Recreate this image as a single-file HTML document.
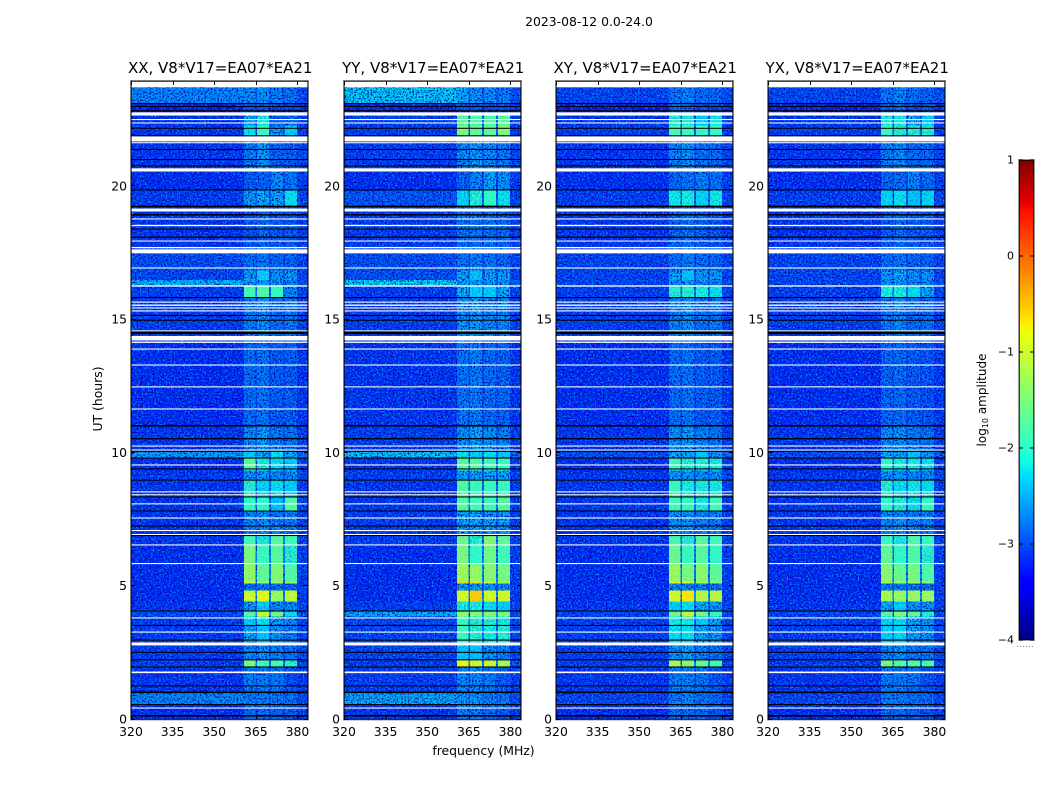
<!DOCTYPE html>
<html lang="en">
<head>
<meta charset="utf-8">
<title>2023-08-12 0.0-24.0 dynamic spectra</title>
<style>
html,body{margin:0;padding:0;background:#fff;}
svg{display:block;}
text{font-family:"DejaVu Sans","Liberation Sans",sans-serif;fill:#000;}
</style>
</head>
<body>
<svg id="chart" xmlns="http://www.w3.org/2000/svg" width="1050" height="800" viewBox="0 0 1050 800">
  <rect width="1050" height="800" fill="#fff"/>
  <text x="589" y="26" font-size="12.4" text-anchor="middle">2023-08-12 0.0-24.0</text>
  <text x="0" y="0" font-size="12.4" text-anchor="middle" transform="translate(102,399) rotate(-90)">UT (hours)</text>
  <text x="483.5" y="755" font-size="12.4" text-anchor="middle">frequency (MHz)</text>
  <text x="0" y="0" font-size="12" text-anchor="middle" transform="translate(986,400) rotate(-90)">log<tspan font-size="8" dy="2">10</tspan><tspan dy="-2"> amplitude</tspan></text>
  <defs id="defs"></defs>
  <g id="panels"></g>
  <g id="colorbar"></g>
</svg>
<script>
// ---------- data ----------
const panelNames = ['XX', 'YY', 'XY', 'YX'];
const baselineName = 'V8*V17=EA07*EA21';
const freqTicks = [320, 335, 350, 365, 380];
const utTicks = [0, 5, 10, 15, 20];
const colorbarTicks = [1, 0, -1, -2, -3, -4];
const freqRange = [320, 383.8];
const utRange = [0, 23.93];
const colorRange = [-4, 1];

// column edges in MHz: background, band A, gap, band B, gap, band C, gap, band D, tail
const freqEdges = [320, 360.7, 364.8, 365.4, 369.7, 370.5, 374.8, 375.5, 379.8, 383.8];

// time segments, UT hours, top to bottom
const utEdges = [23.93, 23.13, 22.78, 22.29, 21.89, 20.68, 19.85, 19.25, 17.71, 16.85, 16.49, 16.27, 15.83, 14.22, 11.03, 10.06, 9.79, 9.34, 8.97, 8.33, 7.80, 7.58, 6.90, 6.53, 5.82, 5.18, 5.10, 4.84, 4.43, 4.05, 3.86, 3.53, 2.78, 2.21, 1.99, 1.01, 0.56, 0];

// log10 amplitude per segment: [background, band A, band B, band C, band D]
const levelsXX = [
[-2.65,-2.6,-2.55,-2.7,-2.75],[-3.3,-2.95,-2.95,-3.1,-3.1],[-3.15,-2.4,-2.1,-2.9,-2.8],[-3.15,-2.2,-1.9,-2.5,-2.3],
[-3.15,-2.7,-2.5,-2.85,-2.9],[-3.2,-2.9,-2.85,-2.6,-2.75],[-3.1,-2.5,-2.4,-2.45,-2.2],[-3.15,-2.95,-2.8,-2.9,-2.9],
[-3.0,-2.8,-2.75,-2.85,-2.85],[-3.05,-2.45,-2.3,-2.55,-2.5],[-2.35,-2.45,-2.45,-2.55,-2.65],[-3.1,-1.85,-1.75,-1.9,-2.6],
[-3.1,-2.7,-2.55,-2.8,-2.7],[-3.2,-2.8,-2.75,-2.9,-2.9],[-3.15,-2.6,-2.5,-2.7,-2.75],[-2.5,-2.3,-2.4,-2.2,-2.4],
[-3.2,-1.7,-2.05,-2.2,-2.3],[-3.15,-2.55,-2.5,-2.6,-2.55],[-3.15,-2.0,-2.25,-2.2,-2.3],[-3.15,-1.95,-1.95,-2.35,-1.75],
[-3.15,-2.65,-2.55,-2.75,-2.65],[-3.15,-2.6,-2.55,-2.65,-2.65],[-3.15,-1.85,-2.05,-1.7,-1.85],[-3.2,-1.5,-1.9,-1.7,-2.0],
[-3.2,-1.35,-1.65,-1.45,-1.75],[-3.2,-0.95,-1.25,-1.1,-1.2],[-3.2,-2.8,-2.75,-2.8,-2.85],[-3.2,-1.0,-0.85,-1.3,-1.05],
[-3.15,-2.5,-2.3,-2.6,-2.6],[-3.0,-1.7,-0.95,-1.5,-2.2],[-3.1,-2.3,-2.2,-2.5,-2.6],[-3.1,-2.4,-2.35,-2.55,-2.65],
[-3.1,-2.65,-2.55,-2.65,-2.75],[-3.1,-1.5,-1.85,-1.8,-2.0],[-3.15,-2.7,-2.7,-2.75,-3.0],[-2.65,-2.7,-2.7,-2.75,-2.8],
[-3.2,-2.8,-2.8,-2.85,-2.9]];
const levelsYY = [
[-2.25,-2.4,-2.55,-2.6,-2.7],[-3.25,-2.95,-2.95,-3.0,-3.0],[-3.05,-1.7,-1.75,-1.75,-1.7],[-3.1,-1.45,-1.65,-1.65,-1.45],
[-3.1,-2.6,-2.5,-2.6,-2.7],[-3.2,-2.85,-2.65,-2.45,-2.55],[-2.95,-2.25,-2.05,-1.95,-2.2],[-3.1,-2.75,-2.75,-2.75,-2.8],
[-3.0,-2.75,-2.7,-2.75,-2.8],[-3.0,-2.45,-2.35,-2.45,-2.45],[-2.2,-2.45,-2.45,-2.45,-2.55],[-3.1,-2.4,-2.3,-2.3,-2.4],
[-3.1,-2.55,-2.5,-2.6,-2.6],[-3.15,-2.75,-2.7,-2.8,-2.85],[-3.1,-2.55,-2.45,-2.55,-2.65],[-2.25,-2.2,-2.3,-2.2,-2.3],
[-3.15,-1.7,-1.75,-1.85,-1.9],[-3.1,-2.45,-2.45,-2.45,-2.45],[-3.15,-1.75,-1.9,-1.9,-1.9],[-3.15,-1.7,-1.85,-1.85,-1.7],
[-3.1,-2.45,-2.45,-2.55,-2.45],[-3.1,-2.4,-2.45,-2.45,-2.45],[-3.1,-1.6,-2.0,-1.45,-1.65],[-3.2,-1.5,-1.95,-1.55,-1.85],
[-3.2,-1.25,-1.3,-1.4,-1.5],[-3.2,-0.6,-0.65,-1.0,-1.1],[-3.2,-2.5,-2.5,-2.55,-2.6],[-3.2,-0.95,-0.55,-0.95,-0.95],
[-3.1,-2.1,-2.1,-2.2,-2.3],[-2.4,-1.3,-1.4,-1.35,-1.45],[-3.05,-1.9,-2.0,-2.0,-2.1],[-3.05,-1.9,-2.0,-2.1,-2.0],
[-3.05,-2.35,-2.35,-2.55,-2.65],[-3.1,-0.8,-1.0,-1.0,-1.2],[-3.1,-2.6,-2.6,-2.7,-2.9],[-2.45,-2.55,-2.55,-2.65,-2.75],
[-3.15,-2.7,-2.7,-2.8,-2.9]];
const levelsXY = [
[-3.05,-2.75,-2.65,-2.8,-2.85],[-3.3,-2.85,-2.85,-3.0,-3.0],[-3.15,-2.0,-2.05,-2.3,-2.15],[-3.1,-1.8,-1.9,-1.9,-1.9],
[-3.15,-2.65,-2.55,-2.75,-2.8],[-3.2,-2.85,-2.75,-2.65,-2.75],[-3.1,-2.15,-2.1,-2.25,-2.15],[-3.15,-2.85,-2.75,-2.85,-2.9],
[-3.05,-2.8,-2.7,-2.8,-2.85],[-3.05,-2.45,-2.35,-2.5,-2.5],[-3.05,-2.55,-2.45,-2.55,-2.65],[-3.1,-2.0,-2.0,-2.1,-2.2],
[-3.1,-2.65,-2.55,-2.75,-2.7],[-3.2,-2.8,-2.75,-2.9,-2.9],[-3.15,-2.55,-2.5,-2.65,-2.75],[-3.0,-2.4,-2.4,-2.3,-2.5],
[-3.2,-1.85,-2.0,-2.0,-2.1],[-3.15,-2.5,-2.5,-2.55,-2.55],[-3.15,-1.9,-2.1,-2.05,-2.1],[-3.15,-1.85,-1.9,-2.1,-1.85],
[-3.15,-2.55,-2.55,-2.65,-2.65],[-3.15,-2.55,-2.55,-2.65,-2.65],[-3.15,-1.8,-2.0,-1.7,-1.85],[-3.2,-1.6,-1.9,-1.7,-1.95],
[-3.2,-1.3,-1.5,-1.4,-1.65],[-3.2,-0.75,-0.75,-1.1,-1.2],[-3.2,-2.65,-2.65,-2.65,-2.75],[-3.2,-0.95,-0.7,-1.1,-1.1],
[-3.15,-2.3,-2.2,-2.4,-2.5],[-3.05,-1.5,-1.0,-1.5,-1.9],[-3.1,-2.1,-2.1,-2.3,-2.4],[-3.1,-2.2,-2.2,-2.4,-2.5],
[-3.1,-2.55,-2.45,-2.65,-2.75],[-3.1,-1.2,-1.4,-1.6,-1.8],[-3.15,-2.7,-2.65,-2.75,-2.95],[-3.05,-2.7,-2.65,-2.75,-2.85],
[-3.2,-2.8,-2.8,-2.85,-2.95]];
const levelsYX = [
[-3.05,-2.75,-2.65,-2.8,-2.85],[-3.3,-2.9,-2.85,-3.0,-3.0],[-3.15,-2.1,-2.1,-2.4,-2.3],[-3.1,-1.9,-2.0,-2.0,-2.0],
[-3.15,-2.7,-2.6,-2.8,-2.8],[-3.2,-2.85,-2.8,-2.65,-2.8],[-3.1,-2.25,-2.2,-2.35,-2.25],[-3.15,-2.9,-2.8,-2.9,-2.9],
[-3.05,-2.8,-2.75,-2.85,-2.85],[-3.05,-2.5,-2.4,-2.55,-2.55],[-3.05,-2.55,-2.5,-2.6,-2.65],[-3.1,-2.1,-2.1,-2.2,-2.4],
[-3.1,-2.7,-2.6,-2.8,-2.75],[-3.2,-2.85,-2.8,-2.9,-2.95],[-3.15,-2.6,-2.55,-2.7,-2.75],[-3.0,-2.4,-2.45,-2.35,-2.5],
[-3.2,-1.95,-2.1,-2.1,-2.2],[-3.15,-2.55,-2.55,-2.6,-2.6],[-3.15,-2.0,-2.2,-2.15,-2.2],[-3.15,-1.95,-2.0,-2.2,-1.9],
[-3.15,-2.6,-2.6,-2.7,-2.65],[-3.15,-2.6,-2.55,-2.65,-2.65],[-3.15,-1.9,-2.1,-1.75,-1.9],[-3.2,-1.65,-1.95,-1.75,-2.0],
[-3.2,-1.4,-1.6,-1.5,-1.75],[-3.2,-1.1,-1.2,-1.2,-1.3],[-3.2,-2.7,-2.7,-2.75,-2.8],[-3.2,-1.2,-1.3,-1.3,-1.3],
[-3.15,-2.4,-2.3,-2.5,-2.55],[-3.05,-1.7,-1.4,-1.6,-2.0],[-3.1,-2.25,-2.2,-2.4,-2.5],[-3.1,-2.3,-2.25,-2.45,-2.55],
[-3.1,-2.65,-2.55,-2.7,-2.75],[-3.1,-1.5,-1.7,-1.7,-1.8],[-3.15,-2.7,-2.7,-2.75,-2.95],[-3.05,-2.7,-2.7,-2.8,-2.85],
[-3.2,-2.8,-2.8,-2.85,-2.95]];
const panelLevels = [levelsXX, levelsYY, levelsXY, levelsYX];

// level of the gaps between bands and of the tail above 380 MHz, per segment
const gapLevels = [-2.95,-3.15,-2.95,-2.85,-2.95,-3.05,-2.9,-3.05,-3.05,-2.95,-2.85,-2.75,-2.95,-3.05,-2.95,-2.75,-2.75,-2.95,-2.75,-2.75,-2.95,-2.95,-2.65,-2.65,-2.65,-2.55,-3.05,-2.55,-2.85,-2.55,-2.75,-2.8,-2.95,-2.65,-2.95,-2.85,-3.05];
const tailLevels = [-3.0,-3.2,-3.1,-3.1,-3.05,-3.1,-3.05,-3.1,-3.05,-3.05,-2.95,-3.05,-3.1,-3.15,-3.1,-2.85,-3.1,-3.05,-3.1,-3.1,-3.1,-3.1,-3.05,-3.1,-3.1,-3.1,-3.1,-3.1,-3.05,-3.05,-3.05,-3.05,-3.05,-3.05,-3.1,-3.05,-3.1];

// flagged integrations: [UT start, UT end]
const blankRows = [[23.93,23.72],[22.78,22.66],[22.53,22.49],[22.40,22.37],[21.88,21.69],[21.66,21.62],[20.68,20.56],[19.17,19.06],[18.80,18.76],[18.56,18.51],[17.97,17.94],[17.73,17.68],[17.64,17.49],[16.96,16.92],[16.29,16.24],[15.68,15.64],[15.57,15.52],[15.46,15.42],[15.35,15.31],[14.60,14.56],[14.39,14.22],[14.18,14.13],[13.92,13.88],[13.32,13.28],[12.50,12.46],[11.67,11.63],[10.28,10.24],[10.13,10.09],[9.57,9.53],[8.56,8.52],[8.45,8.42],[8.11,8.07],[7.58,7.54],[7.11,7.07],[6.96,6.92],[6.57,6.53],[5.87,5.83],[3.83,3.79],[3.30,3.26],[2.89,2.78],[1.80,1.74],[0.45,0.41]];
const zeroRows = [[23.13,23.09],[23.02,23.0],[22.86,22.81],[22.20,22.17],[21.92,21.89],[21.41,21.37],[21.03,20.99],[20.79,20.75],[19.89,19.85],[19.28,19.22],[18.96,18.91],[18.42,18.39],[18.12,18.07],[15.85,15.81],[15.18,15.15],[15.0,14.96],[14.56,14.46],[11.05,10.99],[10.56,10.51],[10.08,10.06],[9.83,9.79],[9.42,9.38],[9.0,8.97],[8.37,8.33],[7.84,7.81],[7.28,7.24],[6.92,6.90],[4.09,4.05],[3.55,3.53],[3.0,2.96],[2.54,2.50],[2.26,2.22],[1.99,1.95],[1.28,1.26],[1.05,0.99],[0.58,0.54],[0.17,0.11]];

// ---------- layout ----------
const panelLefts = [131, 344, 556, 768];
const panelWidth = 177;
const plotTop = 81, plotBottom = 719.5;
const barLeft = 1019, barRight = 1034, barTop = 160, barBottom = 640;
const hotThreshold = -2.4;
const NS = 'http://www.w3.org/2000/svg';

function xScale(mhz, left) { return left + (mhz - freqRange[0]) / (freqRange[1] - freqRange[0]) * panelWidth; }
function yScale(ut) { return plotBottom - (ut - utRange[0]) / (utRange[1] - utRange[0]) * (plotBottom - plotTop - 0.7); }
function barScale(v) { return barBottom - (v - colorRange[0]) / (colorRange[1] - colorRange[0]) * (barBottom - barTop); }

function lerp(pts, t) {
  if (t <= pts[0][0]) return pts[0][1];
  for (let i = 1; i < pts.length; i++) {
    if (t <= pts[i][0]) {
      const a = pts[i - 1], b = pts[i];
      return a[1] + (b[1] - a[1]) * (t - a[0]) / (b[0] - a[0]);
    }
  }
  return pts[pts.length - 1][1];
}
function jet(v) {
  const t = (v - colorRange[0]) / (colorRange[1] - colorRange[0]);
  const r = lerp([[0, 0], [0.35, 0], [0.66, 1], [0.89, 1], [1, 0.5]], t);
  const g = lerp([[0, 0], [0.125, 0], [0.375, 1], [0.64, 1], [0.91, 0], [1, 0]], t);
  const b = lerp([[0, 0.5], [0.11, 1], [0.34, 1], [0.65, 0], [1, 0]], t);
  return 'rgb(' + Math.round(r * 255) + ',' + Math.round(g * 255) + ',' + Math.round(b * 255) + ')';
}
function make(tag, attrs, parent) {
  const el = document.createElementNS(NS, tag);
  for (const k in attrs) el.setAttribute(k, attrs[k]);
  parent.appendChild(el);
  return el;
}
function cellLevel(levels, seg, col) {
  if (col === 0) return levels[seg][0];
  if (col === 8) return tailLevels[seg];
  if (col % 2 === 1) return levels[seg][(col + 1) / 2];
  return gapLevels[seg];
}

// speckle filters (texture only, not data)
const defs = document.getElementById('defs');
function addSpeckle(id, seed, rgb, gain, shift) {
  const f = make('filter', { id: id, x: '0', y: '0', width: '100%', height: '100%', 'color-interpolation-filters': 'sRGB' }, defs);
  make('feTurbulence', { type: 'fractalNoise', baseFrequency: '0.62', numOctaves: '1', seed: seed }, f);
  make('feColorMatrix', { type: 'matrix', values: '0 0 0 0 ' + rgb[0] + ' 0 0 0 0 ' + rgb[1] + ' 0 0 0 0 ' + rgb[2] + ' ' + gain + ' 0 0 0 ' + shift }, f);
}

const panelsRoot = document.getElementById('panels');
panelNames.forEach(function (name, p) {
  const left = panelLefts[p];
  const key = name.toLowerCase();
  addSpeckle('speckle-light-' + p, 3 + p * 7, [0, 0.6, 1], 3.5, -1.6);
  addSpeckle('speckle-dark-' + p, 11 + p * 5, [0, 0, 0.62], 3.5, -1.6);

  const panel = make('g', {}, panelsRoot);
  
  

  const heat = make('g', {}, panel);
  
  
  const hot = [];
  panelLevels[p].forEach(function (row, seg) {
    for (let col = 0; col < freqEdges.length - 1; col++) {
      const v = cellLevel(panelLevels[p], seg, col);
      const x0 = xScale(freqEdges[col], left), x1 = xScale(freqEdges[col + 1], left);
      const y0 = yScale(utEdges[seg]), y1 = yScale(utEdges[seg + 1]);
      const cell = make('rect', { x: x0, y: y0, width: x1 - x0, height: y1 - y0, fill: jet(v), 'shape-rendering': 'crispEdges' }, heat);
      
      
      if (col % 2 === 1 && v > hotThreshold) hot.push({ x: x0, y: y0, w: x1 - x0, h: y1 - y0, v: v });
    }
  });
  const light = make('rect', { x: left, y: plotTop, width: panelWidth, height: plotBottom - plotTop, filter: 'url(#speckle-light-' + p + ')' }, panel);
  
  
  const dark = make('rect', { x: left, y: plotTop, width: panelWidth, height: plotBottom - plotTop, filter: 'url(#speckle-dark-' + p + ')' }, panel);
  
  

  hot.forEach(function (c) {
    const cell = make('rect', { x: c.x, y: c.y, width: c.w, height: c.h, fill: jet(c.v), opacity: c.v > -2 ? 0.9 : 0.65, 'shape-rendering': 'crispEdges' }, panel);
    
    
  });

  blankRows.forEach(function (r) {
    const y0 = yScale(r[0]), y1 = yScale(r[1]);
    const row = make('rect', { x: left, y: y0, width: panelWidth, height: Math.max(1, y1 - y0), fill: '#fff' }, panel);
    
    
  });
  zeroRows.forEach(function (r) {
    const y0 = yScale(r[0]), y1 = yScale(r[1]);
    const row = make('rect', { x: left, y: y0, width: panelWidth, height: Math.max(1, y1 - y0), fill: '#000' }, panel);
    
    
  });

  const frameOuter = make('rect', { x: left - 0.5, y: plotTop - 0.5, width: panelWidth + 1, height: plotBottom - plotTop + 1, fill: 'none', stroke: '#999', 'stroke-width': 1 }, panel);
  
  
  const frame = make('rect', { x: left + 0.2, y: plotTop + 0.2, width: panelWidth - 0.4, height: plotBottom - plotTop - 0.4, fill: 'none', stroke: '#000', 'stroke-width': 0.8 }, panel);
  
  

  const title = make('text', { x: left + panelWidth / 2 + 0.7, y: 73, 'font-size': 15, 'text-anchor': 'middle' }, panel);
  
  
  title.textContent = name + ', ' + baselineName;

  freqTicks.forEach(function (f) {
    const x = Math.round(xScale(f, left)) + 0.5;
    const t1 = make('line', { x1: x, x2: x, y1: plotTop, y2: plotTop + 4, stroke: '#000', 'stroke-width': 1 }, panel);
    
    
    const t2 = make('line', { x1: x, x2: x, y1: plotBottom - 4, y2: plotBottom, stroke: '#000', 'stroke-width': 1 }, panel);
    
    
    const label = make('text', { x: xScale(f, left), y: 736, 'font-size': 12.4, 'text-anchor': 'middle' }, panel);
    
    
    label.textContent = f;
  });
  utTicks.forEach(function (u) {
    const y = Math.round(yScale(u)) - 0.5;
    const t1 = make('line', { x1: left, x2: left + 4, y1: y, y2: y, stroke: '#000', 'stroke-width': 1 }, panel);
    
    
    const t2 = make('line', { x1: left + panelWidth - 4, x2: left + panelWidth, y1: y, y2: y, stroke: '#000', 'stroke-width': 1 }, panel);
    
    
    const label = make('text', { x: left - 4, y: yScale(u) + 4, 'font-size': 12.4, 'text-anchor': 'end' }, panel);
    
    
    label.textContent = u;
  });
});

// ---------- colorbar ----------
const barRoot = document.getElementById('colorbar');
const barSteps = 240;
for (let i = 0; i < barSteps; i++) {
  const v0 = colorRange[0] + (colorRange[1] - colorRange[0]) * i / barSteps;
  const v1 = colorRange[0] + (colorRange[1] - colorRange[0]) * (i + 1) / barSteps;
  const seg = make('rect', { x: barLeft, y: barScale(v1), width: barRight - barLeft, height: barScale(v0) - barScale(v1) + 0.5, fill: jet((v0 + v1) / 2), 'shape-rendering': 'crispEdges' }, barRoot);
  
  
}
const barHalo = make('rect', { x: barLeft - 0.5, y: barTop - 0.5, width: barRight - barLeft + 1, height: barBottom - barTop + 1, fill: 'none', stroke: '#aaa', 'stroke-width': 1 }, barRoot);


const barFrame = make('rect', { x: barLeft + 0.3, y: barTop + 0.3, width: barRight - barLeft - 0.6, height: barBottom - barTop - 0.6, fill: 'none', stroke: '#000', 'stroke-width': 0.8 }, barRoot);


colorbarTicks.forEach(function (v) {
  const y = barScale(v);
  const t1 = make('line', { x1: barLeft, x2: barLeft + 4, y1: y, y2: y, stroke: '#000', 'stroke-width': 1 }, barRoot);
  
  
  const t2 = make('line', { x1: barRight - 4, x2: barRight, y1: y, y2: y, stroke: '#000', 'stroke-width': 1 }, barRoot);
  
  
  const label = make('text', { x: 1014, y: y + 3.5, 'font-size': 11, 'text-anchor': 'end' }, barRoot);
  
  
  label.textContent = v < 0 ? '\u2212' + Math.abs(v) : String(v);
});
const barDots = make('line', { x1: 1017, x2: 1035, y1: 646.5, y2: 646.5, stroke: '#888', 'stroke-width': 1, 'stroke-dasharray': '1 2' }, barRoot);


</script>
</body>
</html>
